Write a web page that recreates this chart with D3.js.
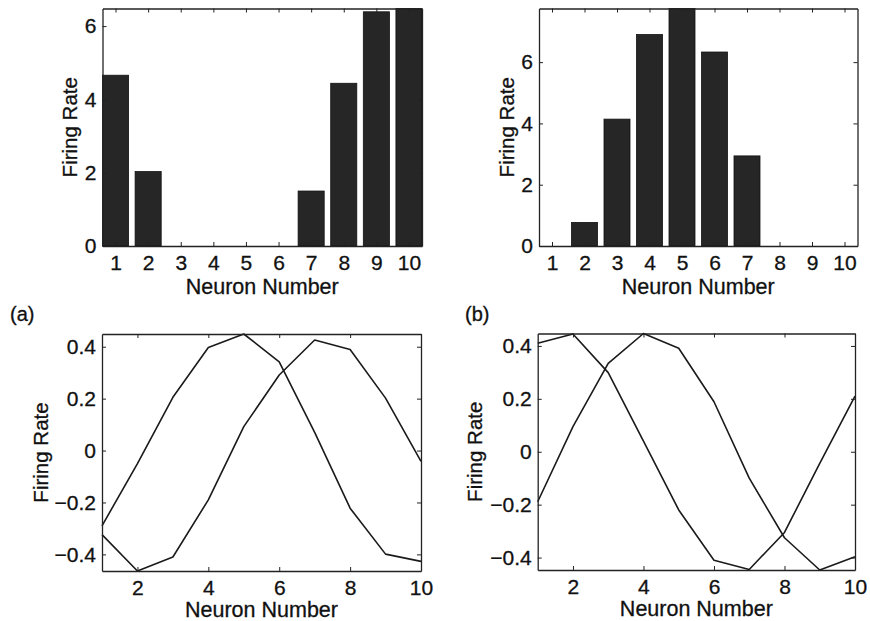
<!DOCTYPE html>
<html>
<head>
<meta charset="utf-8">
<script src="https://cdn.jsdelivr.net/npm/d3@7"></script>
<style>
  html, body { margin: 0; padding: 0; background: #fff; }
  svg { display: block; }
  text { font-family: "Liberation Sans", Arial, Helvetica, sans-serif; fill: #111; stroke: #111; stroke-width: 0.3px; }
</style>
</head>
<body>
<svg id="chart" width="870" height="621"></svg>
<script>
// ---- Data ----
const neurons = [1, 2, 3, 4, 5, 6, 7, 8, 9, 10];
const barsA = [4.66, 2.03, 0, 0, 0, 0, 1.50, 4.44, 6.39, 6.48];
const barsB = [0, 0.77, 4.14, 6.90, 7.75, 6.33, 2.94, 0, 0, 0];
const barTicksA = [0, 2, 4, 6];
const barTicksB = [0, 2, 4, 6];
const curveA1 = [-0.29, -0.05, 0.205, 0.397, 0.449, 0.342, 0.070, -0.222, -0.399, -0.427];
const curveA2 = [-0.324, -0.464, -0.410, -0.190, 0.092, 0.291, 0.426, 0.389, 0.202, -0.042];
const curveB1 = [0.410, 0.445, 0.299, 0.040, -0.220, -0.410, -0.445, -0.305, -0.044, 0.210];
const curveB2 = [-0.189, 0.095, 0.334, 0.447, 0.391, 0.189, -0.100, -0.325, -0.447, -0.397];
const lineTicksY = [-0.4, -0.2, 0, 0.2, 0.4];
const lineTicksX = [2, 4, 6, 8, 10];
const xLabel = "Neuron Number";
const yLabel = "Firing Rate";
const panelLabels = ["(a)", "(b)"];

const svg = d3.select("#chart");
const FS = 21;
const TICK = 4;

function frame(g, x, y, xTicks, yTicks, xFmt, yFmt) {
  const [x0, x1] = x.range();
  const [y0, y1] = y.range();
  const bottom = g.append("g").attr("transform", `translate(0,${y0})`)
    .call(d3.axisBottom(x).tickValues(xTicks).tickSize(-TICK).tickSizeOuter(0).tickPadding(9).tickFormat(xFmt));
  const top = g.append("g").attr("transform", `translate(0,${y1})`)
    .call(d3.axisTop(x).tickValues(xTicks).tickSize(-TICK).tickSizeOuter(0).tickFormat(""));
  const left = g.append("g").attr("transform", `translate(${x0},0)`)
    .call(d3.axisLeft(y).tickValues(yTicks).tickSize(-TICK).tickSizeOuter(0).tickPadding(6).tickFormat(yFmt));
  const right = g.append("g").attr("transform", `translate(${x1},0)`)
    .call(d3.axisRight(y).tickValues(yTicks).tickSize(-TICK).tickSizeOuter(0).tickFormat(""));
  [bottom, top, left, right].forEach(a => {
    a.selectAll("path.domain").attr("stroke", "#222").attr("stroke-width", 1.3);
    a.selectAll(".tick line").attr("stroke", "#222").attr("stroke-width", 1);
    a.selectAll(".tick text").attr("font-size", FS).attr("fill", "#111")
      .attr("font-family", '"Liberation Sans", Arial, sans-serif');
  });
}

function labels(g, x, y, xOff, yOff) {
  const [x0, x1] = x.range();
  const [y0, y1] = y.range();
  g.append("text").attr("x", (x0 + x1) / 2).attr("y", y0 + xOff)
    .attr("text-anchor", "middle").attr("font-size", 21.5).text(xLabel);
  g.append("text").attr("transform", `translate(${x0 + yOff},${(y0 + y1) / 2}) rotate(-90)`)
    .attr("text-anchor", "middle").attr("font-size", 20.5).text(yLabel);
}

function barPanel(values, ticks, box) {
  const g = svg.append("g");
  const x = d3.scaleLinear().domain([0.6, 10.4]).range([box.x0, box.x1]);
  const y = d3.scaleLinear().domain([0, d3.max(values)]).range([box.y1, box.y0]);
  const w = 0.8;
  g.selectAll("rect.bar").data(neurons.map((n, i) => ({ n, v: values[i] })))
    .enter().append("rect").attr("class", "bar")
    .attr("x", d => x(d.n - w / 2))
    .attr("width", d => x(d.n + w / 2) - x(d.n - w / 2))
    .attr("y", d => y(d.v))
    .attr("height", d => y(0) - y(d.v))
    .attr("fill", "#262626").attr("stroke", "#111").attr("stroke-width", 0.8);
  frame(g, x, y, neurons, ticks, d3.format("d"), d3.format("d"));
  labels(g, x, y, 48, -25.5);
}

function linePanel(s1, s2, box, tag, tagX) {
  const g = svg.append("g");
  const all = s1.concat(s2);
  const x = d3.scaleLinear().domain([1, 10]).range([box.x0, box.x1]);
  const y = d3.scaleLinear().domain([d3.min(all), d3.max(all)]).range([box.y1, box.y0]);
  const line = d3.line().x((d, i) => x(neurons[i])).y(d => y(d));
  [s1, s2].forEach(s => {
    g.append("path").datum(s).attr("d", line)
      .attr("fill", "none").attr("stroke", "#1a1a1a").attr("stroke-width", 1.6)
      .attr("stroke-linejoin", "round");
  });
  const yf = d => d === 0 ? "0" : d3.format(".1f")(d);
  frame(g, x, y, lineTicksX, lineTicksY, d3.format("d"), yf);
  labels(g, x, y, 45.5, box.yOff);
  svg.append("text").attr("x", tagX).attr("y", 321).attr("font-size", 20).text(tag);
}

barPanel(barsA, barTicksA, { x0: 102.5, x1: 422, y0: 8.5, y1: 246 });
barPanel(barsB, barTicksB, { x0: 539, x1: 857.5, y0: 8.5, y1: 246 });
linePanel(curveA1, curveA2, { x0: 102, x1: 421, y0: 334, y1: 571, yOff: -54 }, panelLabels[0], 10);
linePanel(curveB1, curveB2, { x0: 537.7, x1: 855, y0: 333.5, y1: 570, yOff: -55.7 }, panelLabels[1], 465);
</script>
</body>
</html>
